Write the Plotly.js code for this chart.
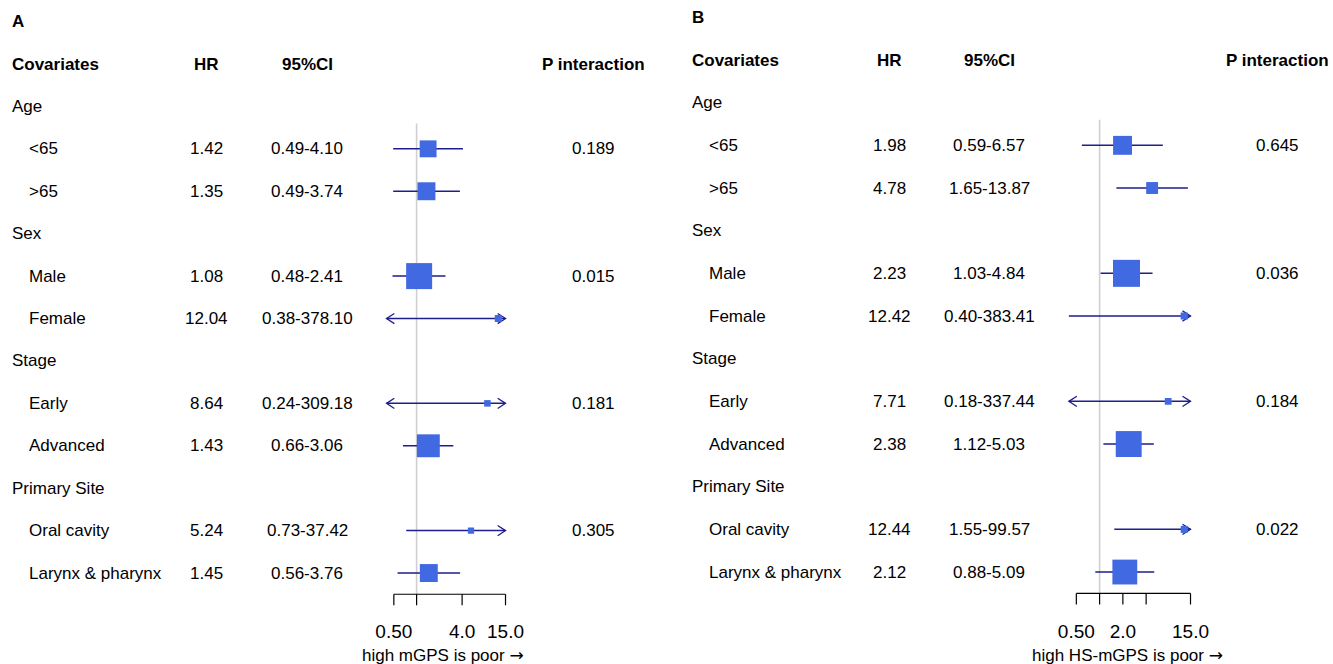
<!DOCTYPE html>
<html><head><meta charset="utf-8">
<script src="https://cdn.plot.ly/plotly-3.0.1.min.js"></script>
<style>html,body{margin:0;padding:0;background:#fff}#chart{width:1333px;height:664px}</style>
</head><body><div id="chart"></div>
<script>
// ---- data ----
const covariates = ["Age","<65",">65","Sex","Male","Female","Stage","Early","Advanced","Primary Site","Oral cavity","Larynx & pharynx"];
const isGroup = [true,false,false,true,false,false,true,false,false,true,false,false];

const hrA = [null,1.42,1.35,null,1.08,12.04,null,8.64,1.43,null,5.24,1.45];
const loA = [null,0.49,0.49,null,0.48,0.38,null,0.24,0.66,null,0.73,0.56];
const hiA = [null,4.10,3.74,null,2.41,378.10,null,309.18,3.06,null,37.42,3.76];
const pA  = ["","0.189","","","0.015","","","0.181","","","0.305",""];
const wtA = [null,0.65,0.69,null,1.0,0.27,null,0.25,0.88,null,0.24,0.69];

const hrB = [null,1.98,4.78,null,2.23,12.42,null,7.71,2.38,null,12.44,2.12];
const loB = [null,0.59,1.65,null,1.03,0.40,null,0.18,1.12,null,1.55,0.88];
const hiB = [null,6.57,13.87,null,4.84,383.41,null,337.44,5.03,null,99.57,5.09];
const pB  = ["","0.645","","","0.036","","","0.184","","","0.022",""];
const wtB = [null,0.70,0.44,null,1.0,0.26,null,0.25,0.96,null,0.26,0.92];

const tickValsA = [0.5,1,4,15];   const tickTextA = ["0.50","","4.0","15.0"];
const tickValsB = [0.5,1,2,4,15]; const tickTextB = ["0.50","","2.0","","15.0"];
const headers = ["Covariates","HR","95%CI","P interaction"];
const panelLabels = ["A","B"];
const axisTitles = ["high mGPS is poor","high HS-mGPS is poor"];
const clipRange = [0.4, 15];

// ---- layout helpers ----
const W = 1333, H = 664;
const FONT = "Liberation Sans, Arial, sans-serif";
const lineCol = "#1e1e8c", boxCol = "#4169E1";

const panels = [
  {hr:hrA, lo:loA, hi:hiA, p:pA, wt:wtA, tv:tickValsA, tt:tickTextA, label:panelLabels[0], title:axisTitles[0],
   xa:"x", ya:"y", onePx:416.6, k:75.6, rowTop:64, rowStep:42.42, maxBox:26,
   col:{group:12, sub:29, hr:207, ci:307, p:593}, titleX:443},
  {hr:hrB, lo:loB, hi:hiB, p:pB, wt:wtB, tv:tickValsB, tt:tickTextB, label:panelLabels[1], title:axisTitles[1],
   xa:"x2", ya:"y2", onePx:1099.6, k:77.3, rowTop:60, rowStep:42.67, maxBox:27,
   col:{group:692, sub:709, hr:889, ci:989, p:1277}, titleX:1127}
];

const traces = [], annotations = [];
const layout = {
  width: W, height: H, margin:{l:0,r:0,t:0,b:0},
  paper_bgcolor:"#fff", plot_bgcolor:"rgba(0,0,0,0)",
  showlegend:false, font:{family:FONT, color:"#000"},
  annotations: annotations
};

const xr = [Math.log10(0.3), Math.log10(20)];
const axisRow = 12.5, tickEndRow = 12.76, refTopRow = 1.4;
const arrowF = 1.27, arrowDy = 0.12;

panels.forEach((P, pi) => {
  const sfx = pi === 0 ? "" : "2";
  const d0 = (P.onePx + P.k*xr[0]) / W, d1 = (P.onePx + P.k*xr[1]) / W;
  layout["xaxis"+sfx] = {
    type:"log", range:xr, domain:[d0,d1], anchor:"free", position:(H-618)/H,
    tickvals:P.tv, ticktext:P.tt, ticks:"", showline:false, showgrid:false, zeroline:false,
    tickfont:{size:19, family:FONT, color:"#000"}, fixedrange:true
  };
  layout["yaxis"+sfx] = {
    range:[(H-P.rowTop)/P.rowStep, -P.rowTop/P.rowStep], domain:[0,1], anchor:P.xa,
    visible:false, showgrid:false, zeroline:false, fixedrange:true
  };

  // reference line at HR = 1
  traces.push({type:"scatter", mode:"lines", xaxis:P.xa, yaxis:P.ya, x:[1,1], y:[refTopRow, axisRow],
    line:{color:"#d0d0d0", width:1.6}, hoverinfo:"skip"});

  // axis line + ticks
  const ax = [P.tv[0], P.tv[P.tv.length-1]], ay = [axisRow, axisRow];
  P.tv.forEach(v => { ax.push(null, v, v); ay.push(null, axisRow, tickEndRow); });
  traces.push({type:"scatter", mode:"lines", xaxis:P.xa, yaxis:P.ya, x:ax, y:ay,
    line:{color:"#000", width:1.2}, hoverinfo:"skip"});

  // CI lines and arrows
  const lx = [], ly = [], chx = [], chy = [];
  P.hr.forEach((h, i) => {
    if (h === null) return;
    const r = i + 1;
    const lo = Math.max(P.lo[i], clipRange[0]), hi = Math.min(P.hi[i], clipRange[1]);
    lx.push(lo, hi, null); ly.push(r, r, null);
    if (P.lo[i] < clipRange[0]) {
      chx.push(clipRange[0]*arrowF, clipRange[0], clipRange[0]*arrowF, null);
      chy.push(r-arrowDy, r, r+arrowDy, null);
    }
    if (P.hi[i] > clipRange[1]) {
      chx.push(clipRange[1]/arrowF, clipRange[1], clipRange[1]/arrowF, null);
      chy.push(r-arrowDy, r, r+arrowDy, null);
    }
  });
  traces.push({type:"scatter", mode:"lines", xaxis:P.xa, yaxis:P.ya, x:lx, y:ly,
    line:{color:lineCol, width:1.5}, hoverinfo:"skip"});
  traces.push({type:"scatter", mode:"lines", xaxis:P.xa, yaxis:P.ya, x:chx, y:chy,
    line:{color:lineCol, width:1.3}, hoverinfo:"skip"});

  // boxes
  const bx = [], by = [], bs = [];
  P.hr.forEach((h, i) => { if (h !== null) { bx.push(h); by.push(i+1); bs.push(P.wt[i]*P.maxBox); } });
  traces.push({type:"scatter", mode:"markers", xaxis:P.xa, yaxis:P.ya, x:bx, y:by, cliponaxis:false,
    marker:{symbol:"square", color:boxCol, opacity:1, size:bs, line:{width:0}}, hoverinfo:"skip"});

  // text table
  const A = (txt, xpx, row, anchor, bold, size) => annotations.push({
    text: bold ? "<b>"+txt+"</b>" : txt, xref:"paper", yref:P.ya,
    x: (anchor === "left" ? xpx - 2 : xpx) / W, y: row,
    xanchor:anchor, yanchor:"middle", showarrow:false,
    font:{size:size||17, family:FONT, color:"#000"}
  });
  A(P.label, P.col.group, -1, "left", true);
  A(headers[0], P.col.group, 0, "left", true);
  A(headers[1], P.col.hr, 0, "center", true);
  A(headers[2], P.col.ci, 0, "center", true);
  A(headers[3], P.col.p, 0, "center", true);
  covariates.forEach((c, i) => {
    const r = i + 1;
    A(c, isGroup[i] ? P.col.group : P.col.sub, r, "left", false);
    if (P.hr[i] !== null) {
      A(P.hr[i].toFixed(2), P.col.hr, r, "center", false);
      A(P.lo[i].toFixed(2) + "-" + P.hi[i].toFixed(2), P.col.ci, r, "center", false);
    }
    if (P.p[i]) A(P.p[i], P.col.p, r, "center", false);
  });
  annotations.push({text:P.title + " <span style='font-family:DejaVu Sans'>\u2192</span>",
    xref:"paper", yref:"paper", x:P.titleX/W, y:(H-655)/H,
    xanchor:"center", yanchor:"middle", showarrow:false, font:{size:17, family:FONT, color:"#000"}});
});

Plotly.newPlot("chart", traces, layout, {staticPlot:true, displayModeBar:false});
</script>
</body></html>
